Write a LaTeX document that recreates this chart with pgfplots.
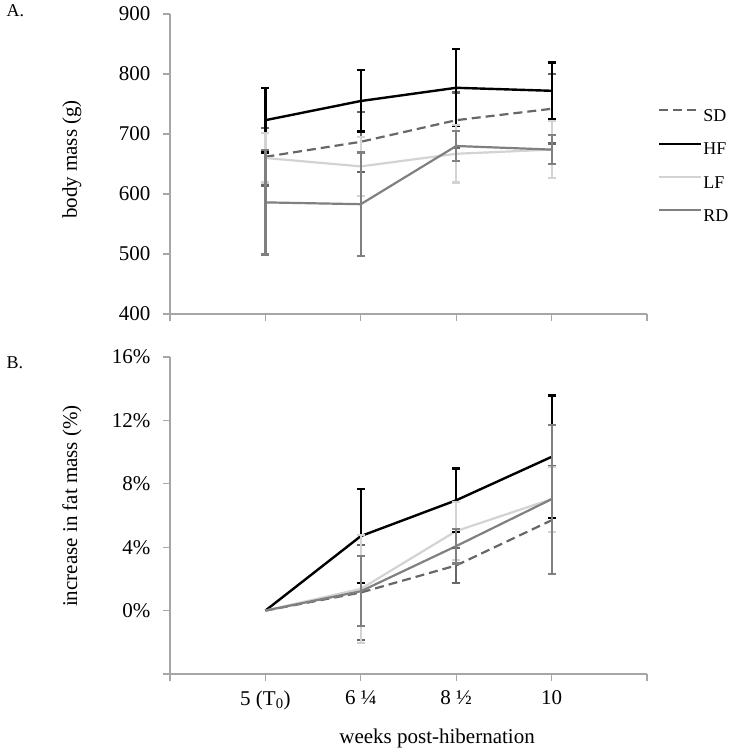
\documentclass[border=0pt]{standalone}
\usepackage{pgfplots}
\pgfplotsset{compat=1.18}
\usepackage{pgfplotstable}
\usepackage{fontspec}
\setmainfont{Liberation Serif}
\definecolor{sdc}{HTML}{676767}
\definecolor{hfc}{HTML}{000000}
\definecolor{lfc}{HTML}{D3D3D3}
\definecolor{rdc}{HTML}{808080}
\definecolor{axc}{HTML}{A6A6A6}

\pgfplotstableread{
x SD SDe HF HFe LF LFe RD RDe
0 662 48 723 54 660 41 586 87
1 687 50 755 51 646 49 583 86
2 723 46 777 64 667 48 680 25
3 742 58 772 47 674 47 674 24
}\topdata

\pgfplotstableread{
x SD HF LF RD
0 0 0 0 0
1 1.14 4.70 1.37 1.22
2 2.85 6.96 5.02 4.07
3 5.70 9.70 7.03 7.03
}\botdata

\pgfplotstableread{
x SD SDe HF HFe LF LFe RD RDe
1 1.14 3.0 4.70 2.98 1.37 3.4 1.22 2.2
2 2.85 1.12 6.96 2.0 5.02 1.84 4.07 1.1
3 5.70 3.4 9.70 3.87 7.03 2.05 7.03 4.7
}\boterr

\pgfplotsset{
  common/.style={
    scale only axis, width=477bp, clip=false,
    xmin=-1, xmax=4, xtick={-1,0,1,2,3,4},
    axis x line*=bottom, axis y line*=left,
    axis line style={axc, line width=1.3bp},
    tick style={axc, line width=1.1bp},
    tick align=outside, major tick length=7bp,
    font=\fontsize{21bp}{24bp}\selectfont,
    /pgf/number format/assume math mode=true,
    yticklabel style={xshift=-9bp},
    xticklabel style={yshift=-6bp},
  },
  sdline/.style={sdc, line width=2.2bp, dash pattern=on 9bp off 5bp},
  hfline/.style={hfc, line width=2.4bp},
  lfline/.style={lfc, line width=2.2bp},
  rdline/.style={rdc, line width=2.2bp},
  eb/.style={error bars/.cd, y dir=both, y explicit,
    error bar style={draw=#1, line width=2.2bp},
    error mark options={rotate=90, draw=#1, line width=2.2bp, mark size=4bp, solid}},
}

\begin{document}
\begin{tikzpicture}
% ---------------- Panel A ----------------
\begin{axis}[common,
  at={(170bp,436bp)}, anchor=south west, height=300bp,
  ymin=400, ymax=900, ytick={400,500,...,900},
  xticklabels={},
  ylabel={body mass (g)},
  ylabel style={at={(axis description cs:-0.2055,0.515)}, anchor=center},
  legend style={at={(axis description cs:1.023,0.493)}, anchor=west,
    draw=none, fill=none, inner sep=0pt, outer sep=0pt,
    nodes={inner sep=0pt, outer sep=0pt},
    row sep=19.5bp, column sep=1bp,
    font=\fontsize{18bp}{20bp}\selectfont},
  legend cell align=left,
  legend image code/.code={\draw[#1] (0bp,6bp) -- (42bp,6bp);},
]
\addplot[sdline, eb=sdc] table[x=x, y=SD, y error=SDe] {\topdata};
\addlegendentry{SD}
\addplot[hfline, eb=hfc] table[x=x, y=HF, y error=HFe] {\topdata};
\addlegendentry{HF}
\addplot[lfline, eb=lfc] table[x=x, y=LF, y error=LFe] {\topdata};
\addlegendentry{LF}
\addplot[rdline, eb=rdc] table[x=x, y=RD, y error=RDe] {\topdata};
\addlegendentry{RD}
\end{axis}

% ---------------- Panel B ----------------
\begin{axis}[common,
  at={(170bp,76bp)}, anchor=south west, height=317bp,
  ymin=-4, ymax=16, ytick={-4,0,4,8,12,16},
  yticklabels={,0\%,4\%,8\%,12\%,16\%},
  xticklabels={,5 (T\textsubscript{0}),6 ¼,8 ½,10,},
  ylabel={increase in fat mass (\%)},
  ylabel style={at={(axis description cs:-0.2055,0.53)}, anchor=center},
  xlabel={weeks post-hibernation},
  xlabel style={at={(axis description cs:0.56,0)}, anchor=center, yshift=-64bp},
]
\addplot[sdline] table[x=x, y=SD] {\botdata};
\addplot[hfline] table[x=x, y=HF] {\botdata};
\addplot[lfline] table[x=x, y=LF] {\botdata};
\addplot[rdline] table[x=x, y=RD] {\botdata};
\addplot[draw=none, eb=sdc] table[x=x, y=SD, y error=SDe] {\boterr};
\addplot[draw=none, eb=hfc] table[x=x, y=HF, y error=HFe] {\boterr};
\addplot[draw=none, eb=lfc] table[x=x, y=LF, y error=LFe] {\boterr};
\addplot[draw=none, eb=rdc] table[x=x, y=RD, y error=RDe] {\boterr};
\end{axis}

\node[anchor=base west, font=\fontsize{18bp}{20bp}\selectfont] at (3bp,733bp) {A.};
\node[anchor=base west, font=\fontsize{18bp}{20bp}\selectfont] at (3bp,381bp) {B.};

\pgfresetboundingbox
\path[use as bounding box] (0,0) rectangle (729bp,750bp);
\end{tikzpicture}
\end{document}
